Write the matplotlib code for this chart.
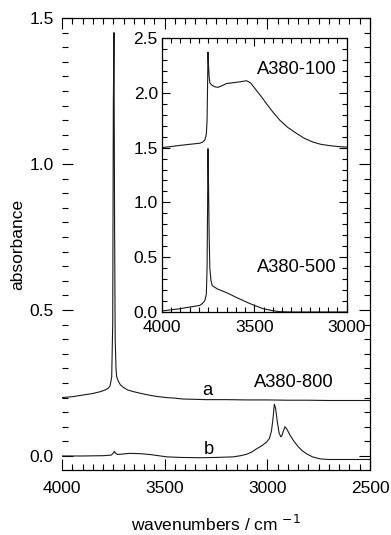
import matplotlib
matplotlib.use("Agg")
import matplotlib.pyplot as plt
from matplotlib.ticker import MultipleLocator

plt.rcParams['font.family'] = ['Liberation Sans', 'DejaVu Sans']

# ---- main panel data ----
wn_a = [4000, 3950, 3896, 3850, 3815, 3790, 3775, 3766, 3758, 3753, 3750, 3747, 3744, 3741, 3737, 3734,
        3725, 3715, 3701, 3680, 3650, 3620, 3580, 3540, 3490, 3450, 3410, 3350, 3300, 3200, 3100, 3000,
        2900, 2800, 2700, 2600, 2500]
abs_a = [0.200, 0.203, 0.209, 0.214, 0.220, 0.226, 0.232, 0.240, 0.270, 0.45, 1.20, 1.45, 0.80, 0.40,
         0.300, 0.272, 0.255, 0.243, 0.235, 0.226, 0.220, 0.215, 0.209, 0.204, 0.200, 0.198, 0.195, 0.194,
         0.193, 0.193, 0.192, 0.192, 0.191, 0.191, 0.190, 0.190, 0.190]

wn_b = [4000, 3900, 3800, 3760, 3750, 3745, 3740, 3730, 3700, 3669, 3620, 3571, 3530, 3490, 3420, 3328,
        3250, 3166, 3130, 3100, 3075, 3051, 3025, 3003, 2990, 2980, 2972, 2966, 2960, 2952, 2943, 2935,
        2930, 2922, 2914, 2905, 2890, 2873, 2850, 2830, 2808, 2780, 2743, 2700, 2613, 2550, 2500]
abs_b = [0.000, 0.000, 0.001, 0.003, 0.010, 0.016, 0.010, 0.005, 0.007, 0.009, 0.008, 0.005, 0.001,
         -0.003, -0.005, -0.006, -0.005, -0.003, 0.001, 0.006, 0.014, 0.025, 0.036, 0.048, 0.060, 0.085,
         0.130, 0.177, 0.165, 0.120, 0.080, 0.066, 0.068, 0.085, 0.100, 0.092, 0.072, 0.053, 0.032, 0.018,
         0.007, -0.003, -0.010, -0.012, -0.012, -0.012, -0.012]

# ---- inset data ----
wn_100 = [4000, 3950, 3903, 3850, 3795, 3780, 3768, 3760, 3756, 3753, 3751, 3748, 3745, 3741, 3730, 3715,
          3696, 3675, 3650, 3600, 3560, 3542, 3520, 3488, 3460, 3434, 3400, 3362, 3320, 3272, 3230, 3182,
          3140, 3092, 3050, 3000]
abs_100 = [1.500, 1.510, 1.520, 1.530, 1.540, 1.550, 1.570, 1.620, 1.750, 2.100, 2.370, 2.250, 2.150,
           2.090, 2.070, 2.055, 2.050, 2.065, 2.085, 2.095, 2.105, 2.110, 2.090, 2.020, 1.960, 1.900, 1.825,
           1.750, 1.685, 1.630, 1.585, 1.550, 1.530, 1.518, 1.510, 1.505]

wn_500 = [4000, 3950, 3903, 3850, 3795, 3780, 3768, 3760, 3756, 3753, 3751, 3748, 3745, 3741, 3735, 3728,
          3700, 3670, 3642, 3600, 3542, 3500, 3452, 3400, 3362, 3300, 3200, 3100, 3000]
abs_500 = [0.010, 0.020, 0.030, 0.045, 0.060, 0.080, 0.105, 0.160, 0.400, 1.000, 1.490, 1.150, 0.720,
           0.400, 0.290, 0.240, 0.210, 0.190, 0.170, 0.135, 0.090, 0.060, 0.030, 0.012, 0.003, 0.000,
           0.000, 0.000, 0.000]

main_xticks = [4000, 3500, 3000, 2500]
main_yticks = [0.0, 0.5, 1.0, 1.5]
inset_xticks = [4000, 3500, 3000]
inset_yticks = [0.0, 0.5, 1.0, 1.5, 2.0, 2.5]

LC = '#1a1a1a'
FS = 12.5
TS = 13.2

fig = plt.figure(figsize=(3.91, 5.35), dpi=100)
ax = fig.add_axes([62/391, 1 - 470/535, 308/391, 452/535])
ax.plot(wn_a, abs_a, color=LC, lw=0.8)
ax.plot(wn_b, abs_b, color=LC, lw=0.8)
ax.set_xlim(4000, 2500)
ax.set_ylim(-0.048, 1.5)
ax.set_xticks(main_xticks)
ax.set_yticks(main_yticks)
ax.set_yticklabels([f"{v:.1f}" for v in main_yticks])
ax.xaxis.set_minor_locator(MultipleLocator(50))
ax.yaxis.set_minor_locator(MultipleLocator(0.05))
ax.spines['left'].set_visible(False)
for s in ['top', 'right', 'bottom']:
    ax.spines[s].set_linewidth(0.9)
ax.tick_params(which='both', direction='in', top=True, right=True, labelsize=FS, width=0.8)
ax.tick_params(which='major', length=8)
ax.tick_params(which='minor', length=4.5)
ax.tick_params(axis='x', pad=8)
ax.tick_params(axis='y', pad=6)
ax.set_xlabel("wavenumbers / cm $^{-1}$", fontsize=FS, labelpad=13)
ax.set_ylabel("absorbance", fontsize=FS, labelpad=3)
ax.text(3294, 0.224, "a", fontsize=TS, ha='center', va='center')
ax.text(3284, 0.022, "b", fontsize=TS, ha='center', va='center')
ax.text(2870, 0.250, "A380-800", fontsize=TS, ha='center', va='center')

ins = fig.add_axes([162/391, 1 - 312/535, 184.7/391, 274/535])
ins.plot(wn_100, abs_100, color=LC, lw=0.8)
ins.plot(wn_500, abs_500, color=LC, lw=0.8)
ins.set_xlim(4000, 3000)
ins.set_ylim(0, 2.5)
ins.set_xticks(inset_xticks)
ins.set_yticks(inset_yticks)
ins.set_yticklabels([f"{v:.1f}" for v in inset_yticks])
ins.xaxis.set_minor_locator(MultipleLocator(50))
ins.yaxis.set_minor_locator(MultipleLocator(0.1))
for s in ins.spines.values():
    s.set_linewidth(0.9)
ins.tick_params(which='both', direction='in', top=True, right=True, labelsize=FS, width=0.8)
ins.tick_params(which='major', length=6)
ins.tick_params(which='minor', length=3.5)
ins.tick_params(axis='x', pad=6)
ins.tick_params(axis='y', pad=3)
ins.text(3055, 2.21, "A380-100", fontsize=TS, ha='right', va='center')
ins.text(3055, 0.41, "A380-500", fontsize=TS, ha='right', va='center')

fig.savefig("out.png", dpi=100)
